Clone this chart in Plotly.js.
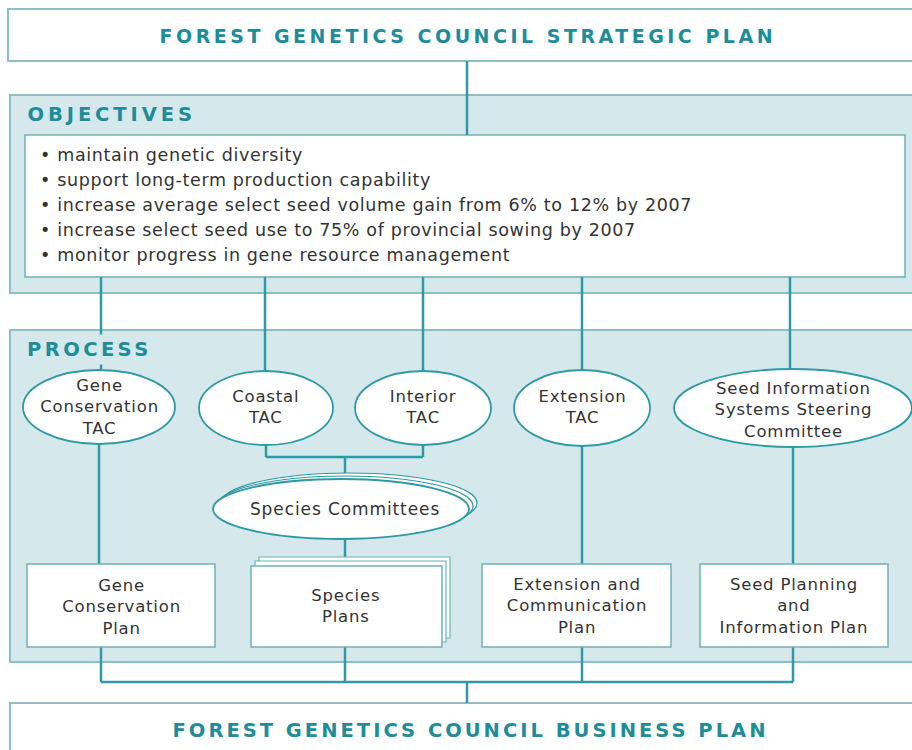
<!DOCTYPE html>
<html>
<head>
<meta charset="utf-8">
<script src="https://cdn.plot.ly/plotly-3.0.1.min.js"></script>
<style>html,body{margin:0;padding:0;background:#fff;}#chart{width:912px;height:750px;}</style>
</head>
<body>
<div id="chart"></div>
<script>
// ---- content ----
const topTitle = "FOREST GENETICS COUNCIL STRATEGIC PLAN";
const bottomTitle = "FOREST GENETICS COUNCIL BUSINESS PLAN";
const sectionLabels = ["OBJECTIVES", "PROCESS"];
const objectives = [
  "maintain genetic diversity",
  "support long-term production capability",
  "increase average select seed volume gain from 6% to 12% by 2007",
  "increase select seed use to 75% of provincial sowing by 2007",
  "monitor progress in gene resource management"
];
const committees = [
  "Gene<br>Conservation<br>TAC",
  "Coastal<br>TAC",
  "Interior<br>TAC",
  "Extension<br>TAC",
  "Seed Information<br>Systems Steering<br>Committee"
];
const speciesCommittee = "Species Committees";
const plans = [
  "Gene<br>Conservation<br>Plan",
  "Species<br>Plans",
  "Extension and<br>Communication<br>Plan",
  "Seed Planning<br>and<br>Information Plan"
];

// ---- geometry (pixel space of the diagram) ----
const ellipseGeom = [[99,407,76,37],[266,408,67,37],[423,408,68,37],[582,408,68,38],[793,408,119,39]];
const ellipseTextY = [407,407,407,407,410];
const speciesEllipse = [341,509,128,30];
const planGeom = [[27,215,564,647],[251,442,566,647],[482,671,564,647],[700,888,564,647]];
const planTextX = [121,346,577,794];
const planTextY = [607,606,606,606];
const objLineX = [101,265,423,582,790];

// ---- styles ----
const TEAL = "#2f9aa5";
const TITLE = "#1d8d9b";
const PANEL = "#d5e9ec";
const PANEL_LINE = "#8dbfc5";
const BOX_LINE = "#6db2ba";
const TXT = "#333333";
const FONT = "DejaVu Sans, Verdana, sans-serif";

const shapes = [];
const rect = (x0,y0,x1,y1,fill,lc,lw) => shapes.push({type:"rect",xref:"x",yref:"y",x0,y0,x1,y1,fillcolor:fill,line:{color:lc,width:lw},layer:"above"});
const line = (x0,y0,x1,y1) => shapes.push({type:"line",xref:"x",yref:"y",x0,y0,x1,y1,line:{color:TEAL,width:2.5},layer:"above"});
const ell = (cx,cy,rx,ry,lw) => shapes.push({type:"circle",xref:"x",yref:"y",x0:cx-rx,x1:cx+rx,y0:cy-ry,y1:cy+ry,fillcolor:"#ffffff",line:{color:TEAL,width:lw},layer:"above"});

// panels
rect(8,9,920,61,"#ffffff",PANEL_LINE,2);
rect(10,95,920,293,PANEL,PANEL_LINE,2);
rect(10,330,920,662,PANEL,PANEL_LINE,2);
rect(10,703,920,760,"#ffffff",PANEL_LINE,2);
// objectives inner box
rect(25,135,905,277,"#ffffff",BOX_LINE,1.5);

// connectors
line(467,61,467,135);
objLineX.forEach((x,i)=>{ line(x,277,x,ellipseGeom[i][1]-ellipseGeom[i][3]); });
line(266,445,266,457); line(423,445,423,457); line(266,457,423,457);
line(345,457,345,479);
line(345,539,345,560);
line(99,444,99,564); line(582,446,582,564); line(793,447,793,564);
line(101,647,101,682); line(345,647,345,682); line(582,647,582,682); line(793,647,793,682);
line(101,682,793,682);
line(467,682,467,703);

// ellipses
ellipseGeom.forEach(g=>ell(g[0],g[1],g[2],g[3],1.8));
ell(speciesEllipse[0]+8,speciesEllipse[1]-6,speciesEllipse[2],speciesEllipse[3],1.2);
ell(speciesEllipse[0]+4,speciesEllipse[1]-3,speciesEllipse[2],speciesEllipse[3],1.2);
ell(speciesEllipse[0],speciesEllipse[1],speciesEllipse[2],speciesEllipse[3],1.8);

// plan boxes (species plans stacked)
planGeom.forEach((g,i)=>{
  if(i===1){
    rect(g[0]+8,g[2]-9,g[1]+8,g[3]-9,"#ffffff",BOX_LINE,1.2);
    rect(g[0]+4,g[2]-5,g[1]+4,g[3]-5,"#ffffff",BOX_LINE,1.2);
  }
  rect(g[0],g[2],g[1],g[3],"#ffffff",BOX_LINE,1.5);
});

const annotations = [];
const spacing = [];
const ann = (text,x,y,size,color,ls,opts) => {
  annotations.push(Object.assign({text,x,y,xref:"x",yref:"y",showarrow:false,xanchor:"center",yanchor:"middle",font:{family:FONT,size,color}},opts||{}));
  spacing.push(ls);
};

ann("<b>"+topTitle+"</b>",468,36,19,TITLE,"3.5px");
ann("<b>"+bottomTitle+"</b>",470,730,19.5,TITLE,"3px");
ann("<b>"+sectionLabels[0]+"</b>",111,114,19.5,TITLE,"3.9px");
ann("<b>"+sectionLabels[1]+"</b>",89,349,19.5,TITLE,"3.4px",{bgcolor:PANEL,borderpad:3});

objectives.forEach((t,i)=>{
  ann("• "+t,38,155+i*25,17.5,TXT,"0.65px",{xanchor:"left",align:"left"});
});
committees.forEach((t,i)=>{
  ann(t,ellipseGeom[i][0],ellipseTextY[i],16.5,TXT,"0.8px");
});
ann(speciesCommittee,345,509,17,TXT,"0.9px");
plans.forEach((t,i)=>{
  ann(t,planTextX[i],planTextY[i],16.5,TXT,"0.8px");
});

const layout = {
  width:912,height:750,
  margin:{l:0,r:0,t:0,b:0,pad:0},
  paper_bgcolor:"#ffffff",plot_bgcolor:"#ffffff",
  showlegend:false,
  xaxis:{range:[0,912],visible:false,fixedrange:true},
  yaxis:{range:[750,0],visible:false,fixedrange:true},
  shapes,annotations
};

Plotly.newPlot("chart",[],layout,{staticPlot:true}).then(()=>{
  document.querySelectorAll("g.annotation").forEach(g=>{
    const idx = +g.getAttribute("data-index");
    const t = g.querySelector(".annotation-text");
    if(t && spacing[idx]){ t.style.letterSpacing = spacing[idx]; }
  });
});
</script>
</body>
</html>
